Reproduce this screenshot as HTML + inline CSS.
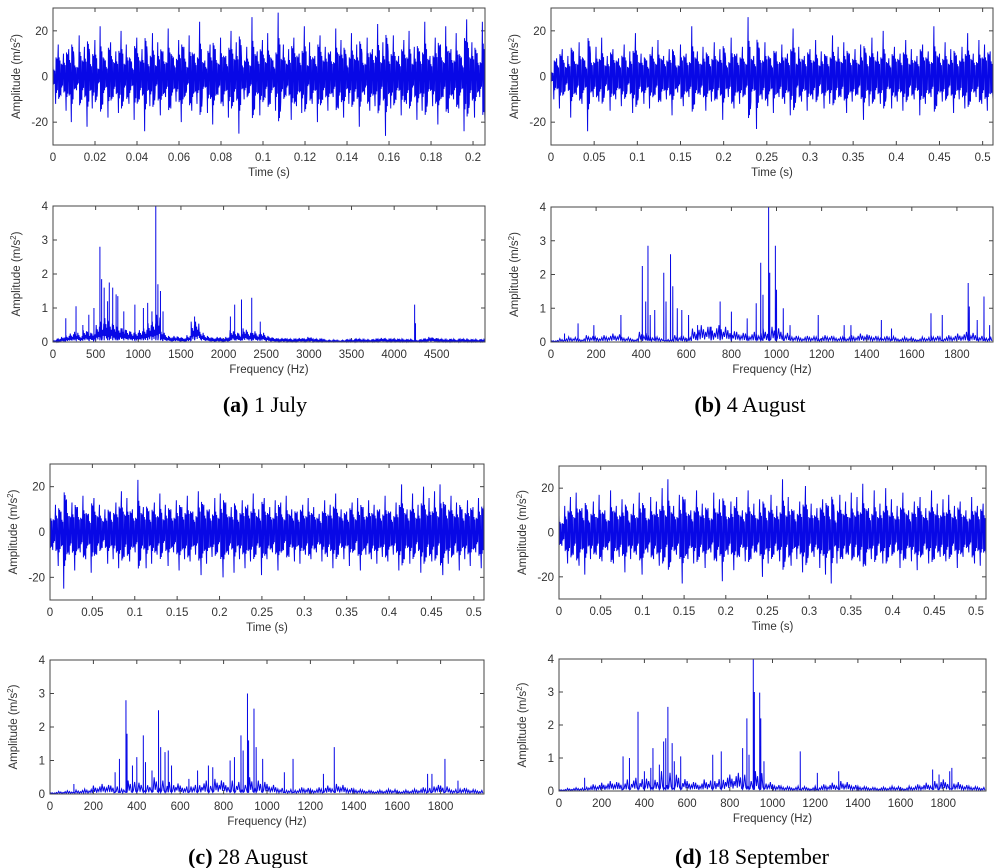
<!DOCTYPE html>
<html><head><meta charset="utf-8"><style>
body{margin:0;background:#fff}
svg{display:block;font-family:"Liberation Sans",Arial,sans-serif}
.tick{font-size:11.5px;fill:#333}
.lab{font-size:11.5px;fill:#333}
.cap{font-family:"Liberation Serif",serif;font-size:22px;fill:#000}
</style></head><body>
<svg id="fig" width="1000" height="868" viewBox="0 0 1000 868" xmlns="http://www.w3.org/2000/svg"></svg>
<script>
// ---- time-domain data (m/s^2) ----
const timeA=[5,-12,14,-8,10,-15,12,-20,8,-6,18,-10,13,-22,9,-14,16,-5,22,-12,7,-18,15,-9,11,-16,20,-8,14,-12,6,-19,17,-10,12,-24,9,-13,19,-7,15,-17,11,-9,21,-14,8,-11,16,-20,13,-6,18,-15,10,-12,24,-9,7,-16,14,-21,12,-8,17,-13,9,-18,20,-11,15,-25,8,-10,13,-7,26,-14,11,-17,16,-9,19,-12,7,-15,28,-11,14,-8,12,-19,17,-13,10,-16,22,-7,15,-12,9,-20,18,-10,13,-15,11,-9,21,-14,16,-18,8,-12,19,-11,14,-22,10,-8,17,-15,12,-13,23,-9,15,-26,11,-14,18,-10,9,-17,16,-12,20,-8,13,-19,11,-15,24,-11,9,-13,17,-21,14,-9,22,-16,12,-10,19,-14,8,-24,25,-12,15,-18,10,-9,24,-20];
const timeB=[3,-10,8,-14,12,-6,9,-18,11,-8,15,-12,7,-24,10,-9,13,-11,17,-7,9,-15,12,-10,8,-13,14,-6,11,-16,19,-9,10,-12,7,-14,13,-8,16,-11,9,-10,12,-17,8,-7,14,-13,10,-9,22,-12,11,-8,13,-15,9,-11,15,-10,12,-19,8,-9,17,-14,10,-12,13,-8,26,-11,9,-23,12,-10,15,-13,8,-16,11,-9,14,-12,10,-17,21,-8,13,-11,9,-15,12,-10,16,-7,11,-14,9,-12,18,-10,13,-9,15,-16,10,-11,12,-8,14,-19,9,-13,17,-10,11,-12,20,-9,8,-14,13,-11,10,-15,16,-8,12,-10,9,-17,14,-12,11,-9,22,-13,10,-11,15,-8,12,-16,9,-10,13,-14,19,-11,10,-9,16,-12,14,-15,11,-10];
const timeC=[10,-8,12,-15,9,-25,14,-10,13,-17,11,-9,16,-12,8,-18,15,-10,12,-7,10,-14,9,-12,13,-16,18,-11,15,-13,10,-9,23,-12,11,-16,9,-14,13,-10,17,-8,12,-15,10,-9,14,-17,11,-12,16,-13,9,-10,18,-19,12,-14,10,-11,15,-9,17,-20,13,-10,11,-18,9,-12,14,-16,12,-13,17,-10,10,-19,15,-12,11,-9,14,-17,13,-8,16,-11,10,-13,9,-14,12,-10,15,-12,11,-9,8,-13,14,-11,12,-16,17,-10,10,-12,9,-15,13,-8,15,-17,11,-10,14,-12,12,-14,10,-11,16,-13,9,-10,13,-17,21,-12,10,-14,17,-9,12,-18,20,-11,15,-13,18,-10,21,-19,12,-14,16,-10,13,-17,10,-12,14,-15,11,-9,15,-16,12];
const timeD=[8,-6,12,-14,16,-10,18,-15,11,-19,9,-12,14,-10,17,-13,10,-8,19,-14,12,-11,15,-18,9,-12,13,-10,18,-19,11,-9,16,-12,14,-15,20,-11,24,-13,12,-10,17,-23,15,-12,10,-14,19,-11,13,-16,11,-9,18,-13,15,-22,12,-10,14,-17,16,-11,10,-13,19,-12,13,-9,15,-20,11,-14,17,-10,12,-13,24,-11,16,-15,10,-12,14,-18,21,-10,13,-11,11,-16,15,-19,12,-23,9,-14,17,-12,14,-10,18,-11,16,-13,22,-15,11,-12,19,-10,13,-14,20,-11,15,-9,12,-16,18,-12,10,-13,14,-17,16,-10,11,-14,19,-12,13,-11,15,-13,17,-10,12,-16,14,-11,10,-9,16,-14,12,-15,13,-10];
// ---- spectrum data: baseline per bin + peaks ----
const baseA=[0.05,0.1,0.15,0.2,0.25,0.3,0.2,0.35,0.3,0.25,0.5,0.6,0.7,0.6,0.5,0.45,0.4,0.35,0.3,0.3,0.35,0.4,0.55,0.6,0.8,0.3,0.2,0.15,0.18,0.15,0.12,0.2,0.55,0.6,0.3,0.2,0.15,0.12,0.15,0.1,0.15,0.35,0.3,0.25,0.4,0.3,0.35,0.25,0.3,0.2,0.15,0.12,0.1,0.12,0.1,0.08,0.1,0.12,0.1,0.15,0.1,0.08,0.1,0.05,0.05,0.06,0.04,0.05,0.08,0.06,0.1,0.08,0.07,0.06,0.08,0.1,0.12,0.08,0.1,0.08,0.09,0.07,0.08,0.06,0.05,0.08,0.1,0.15,0.12,0.1,0.08,0.07,0.09,0.06,0.1,0.08,0.07,0.08,0.06,0.08];
const peakFreqA=[150,270,350,420,480,550,570,600,640,660,700,740,760,830,960,1060,1110,1160,1205,1230,1260,1290,1620,1660,2080,2130,2210,2330,2430,4240,4250];
const peakAmpA=[0.7,1.05,0.5,0.8,1.0,2.8,1.85,1.6,1.2,1.75,1.6,1.4,1.35,0.9,1.1,1.0,1.15,0.9,4.0,1.7,1.5,0.9,0.6,0.75,0.75,1.1,1.25,1.3,0.6,1.1,0.55];
const baseB=[0.05,0.1,0.15,0.1,0.2,0.15,0.2,0.25,0.15,0.1,0.3,0.2,0.15,0.1,0.2,0.15,0.4,0.5,0.45,0.5,0.35,0.3,0.25,0.3,0.4,0.45,0.3,0.2,0.15,0.18,0.15,0.2,0.15,0.15,0.2,0.25,0.2,0.15,0.18,0.12,0.15,0.1,0.15,0.2,0.15,0.2,0.25,0.3,0.2,0.15];
const peakFreqB=[60,120,190,310,405,420,430,440,460,500,510,530,540,560,580,610,650,710,750,800,870,910,930,940,965,970,995,1000,1030,1060,1185,1300,1330,1465,1510,1685,1735,1850,1855,1890,1920,1945];
const peakAmpB=[0.25,0.55,0.5,0.8,2.25,1.2,2.85,0.8,0.95,2.05,1.2,2.6,1.65,1.0,0.95,0.8,0.5,0.45,1.2,0.9,0.7,1.15,2.35,1.4,4.0,2.05,2.85,1.55,1.0,0.5,0.8,0.5,0.5,0.65,0.4,0.85,0.8,1.75,1.05,0.65,1.35,0.5];
const baseC=[0.05,0.08,0.1,0.12,0.15,0.25,0.3,0.25,0.2,0.4,0.45,0.35,0.5,0.4,0.35,0.25,0.3,0.35,0.4,0.45,0.35,0.4,0.45,0.5,0.4,0.3,0.2,0.15,0.15,0.2,0.15,0.2,0.25,0.3,0.2,0.15,0.12,0.1,0.12,0.15,0.1,0.12,0.15,0.2,0.3,0.25,0.15,0.2,0.15,0.12];
const peakFreqC=[110,300,320,350,355,380,400,430,440,470,500,510,530,545,560,640,680,730,750,830,850,880,890,910,915,940,950,980,1080,1120,1260,1310,1740,1760,1820,1880];
const peakAmpC=[0.3,0.65,1.05,2.8,1.8,0.85,1.1,1.75,0.95,0.7,2.5,1.4,1.25,1.3,0.85,0.45,0.7,0.85,0.8,1.0,1.1,1.75,1.3,3.0,1.6,2.55,1.4,1.05,0.65,1.05,0.6,1.4,0.6,0.6,1.05,0.4];
const baseD=[0.05,0.08,0.1,0.15,0.2,0.25,0.3,0.25,0.35,0.4,0.5,0.45,0.6,0.55,0.4,0.3,0.25,0.35,0.4,0.45,0.5,0.55,0.5,0.6,0.3,0.2,0.15,0.12,0.15,0.1,0.15,0.2,0.25,0.3,0.2,0.15,0.12,0.1,0.12,0.15,0.1,0.15,0.2,0.25,0.3,0.35,0.3,0.2,0.15,0.12];
const peakFreqD=[120,300,330,370,400,430,440,470,490,500,510,530,540,570,720,760,860,880,890,910,915,940,945,960,1130,1210,1310,1750,1780,1830,1840];
const peakAmpD=[0.4,1.05,1.0,2.4,0.6,0.7,1.3,0.8,1.5,1.6,2.55,1.45,0.9,1.05,1.1,1.2,1.3,2.2,1.1,4.0,3.0,2.98,2.2,0.9,1.2,0.55,0.6,0.65,0.5,0.6,0.7];
// ---- tick labels ----
const timeTicksA=["0","0.02","0.04","0.06","0.08","0.1","0.12","0.14","0.16","0.18","0.2"];
const timeTicksB=["0","0.05","0.1","0.15","0.2","0.25","0.3","0.35","0.4","0.45","0.5"];
const freqTicksA=["0","500","1000","1500","2000","2500","3000","3500","4000","4500"];
const freqTicksB=["0","200","400","600","800","1000","1200","1400","1600","1800"];
const ampTicksT=["-20","0","20"];
const ampTicksF=["0","1","2","3","4"];

const NS="http://www.w3.org/2000/svg";
const svg=document.getElementById('fig');
const LINE='#0808e6';
function mk(tag,attrs,parent){const e=document.createElementNS(NS,tag);for(const k in attrs)e.setAttribute(k,attrs[k]);(parent||svg).appendChild(e);return e;}

function axes(g,box,xmax,ymin,ymax,xt,yt,xlabel){
  const sx=v=>box.x0+(v/xmax)*(box.x1-box.x0);
  const sy=v=>box.y1-(v-ymin)/(ymax-ymin)*(box.y1-box.y0);
  xt.forEach(t=>{const x=sx(parseFloat(t));
    const l1=mk('line',{x1:x,x2:x,y1:box.y1,y2:box.y1-4,stroke:'#444','stroke-width':1},g);
    
    
    mk('line',{x1:x,x2:x,y1:box.y0,y2:box.y0+4,stroke:'#444','stroke-width':1},g);
    const tx=mk('text',{x:x,y:box.y1+16,'text-anchor':'middle',class:'tick'},g);tx.textContent=t;
    
    
  });
  yt.forEach(t=>{const y=sy(parseFloat(t));
    const l1=mk('line',{x1:box.x0,x2:box.x0+4,y1:y,y2:y,stroke:'#444','stroke-width':1},g);
    
    
    mk('line',{x1:box.x1,x2:box.x1-4,y1:y,y2:y,stroke:'#444','stroke-width':1},g);
    const tx=mk('text',{x:box.x0-5,y:y+4,'text-anchor':'end',class:'tick'},g);tx.textContent=t;
    
    
  });
  const xl=mk('text',{x:(box.x0+box.x1)/2,y:box.y1+31,'text-anchor':'middle',class:'lab'},g);xl.textContent=xlabel;
  
  
  const cy=(box.y0+box.y1)/2, cx=box.x0-33;
  const yl=mk('text',{x:cx,y:cy,'text-anchor':'middle',class:'lab',transform:`rotate(-90 ${cx} ${cy})`},g);
  
  
  yl.appendChild(document.createTextNode('Amplitude (m/s'));
  const sup=document.createElementNS(NS,'tspan');sup.setAttribute('baseline-shift','super');sup.setAttribute('font-size','8');sup.textContent='2';yl.appendChild(sup);
  const t2=document.createElementNS(NS,'tspan');t2.textContent=')';yl.appendChild(t2);
  return {sx,sy};
}
function frame(g,box){
  const r=mk('rect',{x:box.x0,y:box.y0,width:box.x1-box.x0,height:box.y1-box.y0,fill:'none',stroke:'#444','stroke-width':1},g);
  
  
}
function timePanel(name,box,data,tmax,xt){
  const g=mk('g',{});
  
  
  const {sx,sy}=axes(g,box,tmax,-30,30,xt,ampTicksT,'Time (s)');
  const n=data.length-1, pts=[];
  const sub=[1,-0.7,0.6,-0.65,0.5,-0.55];
  data.forEach((v,i)=>{
    const t0=i/n*tmax, dt=tmax/n;
    sub.forEach((m,k)=>{ if(i<n||k===0) pts.push(sx(t0+dt*k/sub.length).toFixed(2)+','+sy(v*m).toFixed(2)); });
  });
  const pl=mk('polyline',{points:pts.join(' '),fill:'none',stroke:LINE,'stroke-width':1},g);
  
  
  frame(g,box);
}
function freqPanel(name,box,base,pf,pa,fmax,xt){
  const g=mk('g',{});
  
  
  const {sx,sy}=axes(g,box,fmax,0,4,xt,ampTicksF,'Frequency (Hz)');
  const step=fmax/base.length;
  const mult=[1,0.25,0.75,0.15,0.6,0.3,0.9,0.2];
  let pts=[];
  base.forEach((v,i)=>{const f=i*step;mult.forEach((m,k)=>pts.push([f+step*k/mult.length,v*m]));});
  pf.forEach((f,i)=>{const b=0.05;pts.push([f-0.5,b]);pts.push([f,pa[i]]);pts.push([f+0.5,b]);});
  pts.sort((a,b)=>a[0]-b[0]);
  const s=pts.filter(p=>p[0]<=fmax).map(p=>sx(p[0]).toFixed(2)+','+sy(p[1]).toFixed(2)).join(' ');
  const pl=mk('polyline',{points:s,fill:'none',stroke:LINE,'stroke-width':1},g);
  
  
  frame(g,box);
}
timePanel('time-plot-a',{x0:53,x1:485,y0:8,y1:145},timeA,0.2057,timeTicksA);
freqPanel('spectrum-plot-a',{x0:53,x1:485,y0:206,y1:342},baseA,peakFreqA,peakAmpA,5065,freqTicksA);
timePanel('time-plot-b',{x0:551,x1:993,y0:8,y1:145},timeB,0.512,timeTicksB);
freqPanel('spectrum-plot-b',{x0:551,x1:993,y0:207,y1:342},baseB,peakFreqB,peakAmpB,1960,freqTicksB);
timePanel('time-plot-c',{x0:50,x1:484,y0:464,y1:600},timeC,0.512,timeTicksB);
freqPanel('spectrum-plot-c',{x0:50,x1:484,y0:660,y1:794},baseC,peakFreqC,peakAmpC,2000,freqTicksB);
timePanel('time-plot-d',{x0:559,x1:986,y0:466,y1:599},timeD,0.512,timeTicksB);
freqPanel('spectrum-plot-d',{x0:559,x1:986,y0:659,y1:791},baseD,peakFreqD,peakAmpD,2000,freqTicksB);

const caps=[['(a)',' 1 July',265,412,'caption-a'],['(b)',' 4 August',750,412,'caption-b'],['(c)',' 28 August',248,864,'caption-c'],['(d)',' 18 September',752,864,'caption-d']];
caps.forEach(c=>{
  const t=mk('text',{x:c[2],y:c[3],'text-anchor':'middle',class:'cap'});
  
  
  const b=document.createElementNS(NS,'tspan');b.setAttribute('font-weight','bold');b.textContent=c[0];t.appendChild(b);
  t.appendChild(document.createTextNode(c[1]));
});
</script>
</body></html>
